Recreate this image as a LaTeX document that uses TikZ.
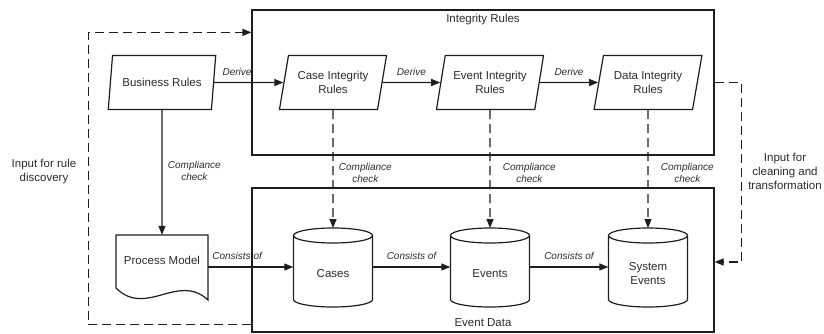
\documentclass[tikz,border=0pt]{standalone}
\usepackage{fontspec}
\setmainfont{Liberation Sans}
\usetikzlibrary{arrows.meta,shapes.geometric,calc}
\definecolor{ink}{HTML}{1E1E1E}
\definecolor{txt}{HTML}{2B2B2B}
\newcommand\drawcyl[1]{%
  \draw[line] ($(#1.center)+(-39.5,38.5)$) -- ($(#1.center)+(-39.5,-25.5)$)
    arc[start angle=180,end angle=360,x radius=39.5pt,y radius=7.5pt]
    -- ($(#1.center)+(39.5,38.5)$)
    arc[start angle=0,end angle=360,x radius=39.5pt,y radius=7.5pt];}
\begin{document}
\begin{tikzpicture}[x=1pt,y=1pt,
  font=\fontsize{11.5}{14}\selectfont, text=txt,
  line/.style={draw=ink, line width=1.2pt},
  arr/.style={draw=ink, line width=1.2pt, -{Triangle[length=9pt,width=7pt]}},
  darr/.style={arr, dash pattern=on 9pt off 5pt},
  para/.style={trapezium, trapezium left angle=74, trapezium right angle=106,
    trapezium stretches=true, draw=ink, line width=1.2pt,
    minimum width=108pt, minimum height=54pt, align=center, inner sep=2pt},
  cyl/.style={minimum width=79pt, inner sep=0pt, align=center},
  lab/.style={font=\fontsize{10}{12}\selectfont\itshape, align=center},
  frame/.style={draw=ink, line width=1.2pt, minimum width=462pt, inner sep=0pt}
]
\useasboundingbox (0,0) rectangle (824,333);

% frames
\node[frame, minimum height=145pt,
  label={[anchor=north, inner sep=0pt, yshift=-5pt]north:Integrity Rules}]
  (irbox) at (483,250.5) {};
\node[frame, minimum height=144pt,
  label={[anchor=south, inner sep=0pt, yshift=6pt]south:Event Data}]
  (edbox) at (483,73) {};

% rule nodes
\node[para] (br) at (162,250.5) {Business Rules};
\node[para] (case) at (333,250.5) {Case Integrity\\Rules};
\node[para] (event) at (490,250.5) {Event Integrity\\Rules};
\node[para] (data) at (648,250.5) {Data Integrity\\Rules};

% process model
\node[minimum width=92pt, minimum height=50pt, inner sep=0pt] (pm) at (162,73) {Process Model};
\draw[line] ($(pm.center)+(-46,-28)$) -- ($(pm.center)+(-46,25)$) -- ($(pm.center)+(46,25)$)
  -- ($(pm.center)+(46,-40)$) .. controls ($(pm.center)+(16,-12)$) and ($(pm.center)+(-16,-58)$)
  .. ($(pm.center)+(-46,-28)$) -- cycle;

% cylinders
\node[cyl] (cases) at (333,59) {Cases};
\node[cyl] (events) at (490,59) {Events};
\node[cyl] (sysev) at (648,59) {System\\Events};
\drawcyl{cases}
\drawcyl{events}
\drawcyl{sysev}

% side labels
\node[align=center] (lrule) at (44,161) {Input for rule\\discovery};
\node[align=center] (lclean) at (785,162) {Input for\\cleaning and\\transformation};

% derive arrows
\draw[arr] (br) -- node[lab, above=3pt, pos=0.33]{Derive} (case);
\draw[arr] (case) -- node[lab, above=3pt]{Derive} (event);
\draw[arr] (event) -- node[lab, above=3pt]{Derive} (data);

% compliance
\draw[arr] (br) -- node[lab, right=2pt, pos=0.49]{Compliance\\check} (br |- pm.north);
\draw[darr] (case) -- node[lab, right=2pt, pos=0.53]{Compliance\\check} ($(cases.center)+(0,46)$);
\draw[darr] (event) -- node[lab, right=9pt, pos=0.53]{Compliance\\check} ($(events.center)+(0,46)$);
\draw[darr] (data) -- node[lab, right=9pt, pos=0.53]{Compliance\\check} ($(sysev.center)+(0,46)$);

% consists of
\draw[arr] ([yshift=-7pt]pm.east) -- node[lab, above=3pt, pos=0.34]{Consists of} ([yshift=7pt]cases.west);
\draw[arr] ([yshift=7pt]cases.east) -- node[lab, above=3pt]{Consists of} ([yshift=7pt]events.west);
\draw[arr] ([yshift=7pt]events.east) -- node[lab, above=3pt]{Consists of} ([yshift=7pt]sysev.west);

% feedback loops
\draw[darr] ([yshift=8pt]edbox.south west) -- ++(-163,0) |- ([yshift=-23pt]irbox.north west);
\draw[darr] (irbox.east) -- ++(27,0) |- ([yshift=-2pt]edbox.east);
\end{tikzpicture}
\end{document}
